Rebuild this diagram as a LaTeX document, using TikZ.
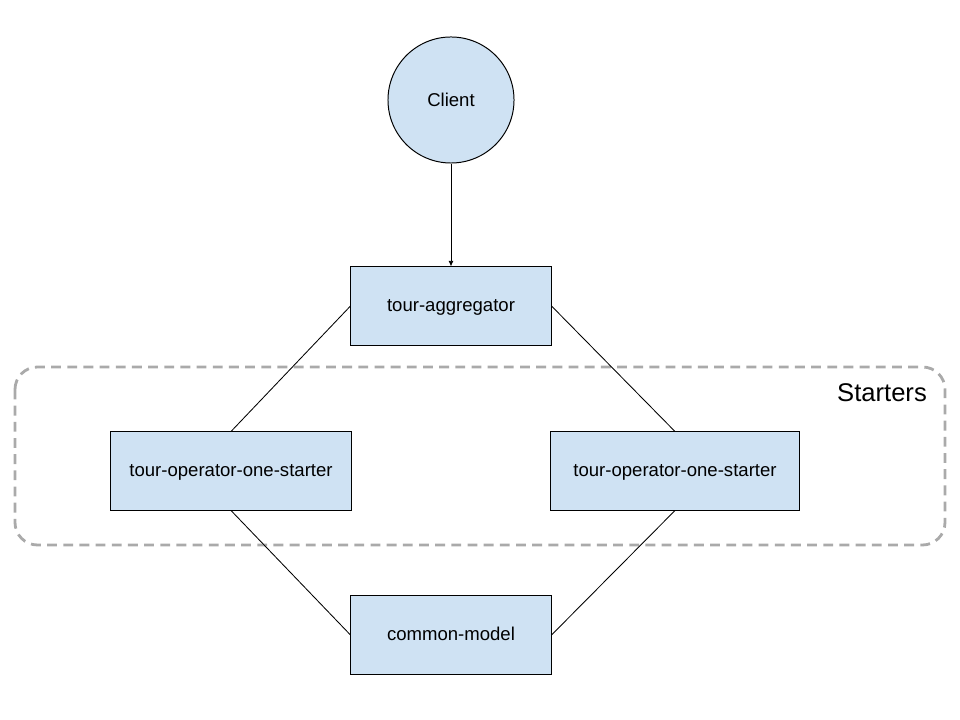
\documentclass[tikz,border=0pt]{standalone}
\usepackage{fontspec}
\setmainfont{Liberation Sans}
\usepackage{xcolor}
\usetikzlibrary{arrows.meta, positioning}
\definecolor{tourbleu}{RGB}{207,226,243}
\definecolor{tourgris}{RGB}{170,170,170}

\tikzset{
  modulebox/.style={rectangle, draw=black, fill=tourbleu, line width=0.7pt,
        minimum height=1.95cm, inner sep=0pt, text centered,
        text height=1.5ex, text depth=0pt,
        font=\fontsize{13.2}{16}\selectfont},
  link/.style={draw=black, line width=0.6pt}
}

\begin{document}
\begin{tikzpicture}[x=0.025cm, y=-0.025cm]
  \useasboundingbox (0,0) rectangle (960,720);

  % group of starters
  \draw[tourgris, line width=2pt, dash pattern=on 7pt off 4.5pt, rounded corners=16pt]
    (15,367) rectangle (945,545);
  \node[font=\fontsize{18.2}{22}\selectfont] (startersLabel) at (882,393) {Starters};

  % nodes
  \node[circle, draw=black, fill=tourbleu, line width=0.7pt, minimum size=3.15cm,
        inner sep=0pt, font=\fontsize{13.2}{16}\selectfont] (client) at (451,100) {Client};
  \node[modulebox, minimum width=5cm] (aggregator) at (451,306) {tour-aggregator};
  \node[modulebox, minimum width=6cm] (starterOne) at (231,471) {tour-operator-one-starter};
  \node[modulebox, minimum width=6.2cm] (starterTwo) at (675,471) {tour-operator-one-starter};
  \node[modulebox, minimum width=5cm] (model) at (451,635) {common-model};

  % connectors
  \draw[link, -{Latex[length=4pt, width=3.5pt]}] (client) -- (aggregator);
  \draw[link] (aggregator.west) -- (starterOne.north);
  \draw[link] (aggregator.east) -- (starterTwo.north);
  \draw[link] (starterOne.south) -- (model.west);
  \draw[link] (starterTwo.south) -- (model.east);
\end{tikzpicture}
\end{document}
